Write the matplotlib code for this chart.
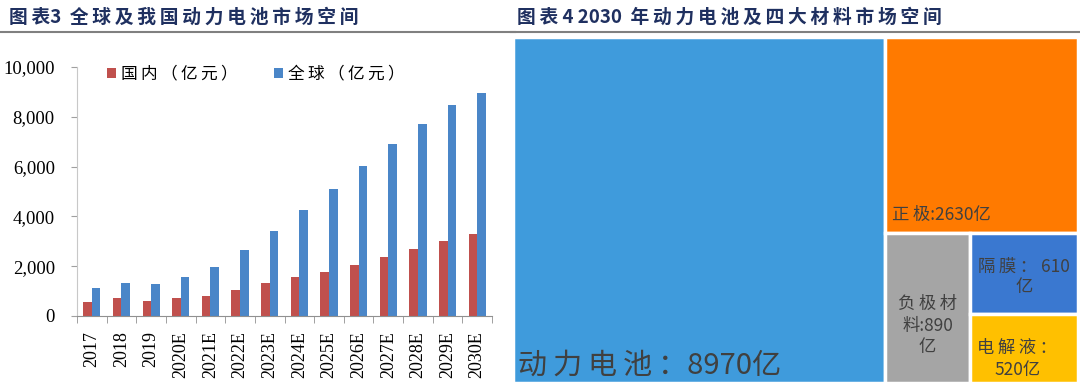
import numpy as np
import matplotlib
matplotlib.use("Agg")
from matplotlib import pyplot as plt
from matplotlib.patches import Rectangle

plt.rcParams['font.family'] = ['Noto Sans CJK SC', 'DejaVu Sans']

years = ['2017', '2018', '2019', '2020E', '2021E', '2022E', '2023E',
         '2024E', '2025E', '2026E', '2027E', '2028E', '2029E', '2030E']
domestic = [550, 710, 620, 720, 820, 1050, 1310, 1560, 1760, 2050, 2360, 2680, 3000, 3300]
world = [1140, 1340, 1270, 1570, 1960, 2640, 3430, 4240, 5110, 6030, 6920, 7730, 8490, 8970]

tm_names = ['动力电池：8970亿', '正极:2630亿', '负极材\n料:890\n亿', '隔膜： 610\n亿', '电解液：\n520亿']
tm_values = [8970, 2630, 890, 610, 520]
tm_colors = ['#3F9BDC', '#FF7A00', '#A5A5A5', '#3A78D0', '#FFC000']


def spaced(s):
    # wide tracking between CJK characters, like the report fonts
    out = ''
    for a, b in zip(s, s[1:] + ' '):
        out += a
        if ord(a) > 127 and ord(b) > 127:
            out += '\u2009'
    return out


navy = '#1F3060'
fig = plt.figure(figsize=(10.8, 3.87), dpi=100)

# headers
fig.text(0.008, 0.955, spaced('图表') + '3  ' + spaced('全球及我国动力电池市场空间'),
         fontsize=13.5, fontweight='bold', color=navy, va='center')
fig.text(0.479, 0.955, spaced('图表') + ' 4 2030  ' + spaced('年动力电池及四大材料市场空间'),
         fontsize=13.5, fontweight='bold', color=navy, va='center')
fig.add_artist(plt.Line2D([0, 0.477], [0.917, 0.917], color='#808080', lw=1.5))
fig.add_artist(plt.Line2D([0.473, 1], [0.917, 0.917], color='#808080', lw=1.5))

# left bar chart
ax = fig.add_axes((0.0713, 0.1835, 0.3843, 0.6434))
x = np.arange(len(years))
w = 0.29
ax.bar(x - w / 2, domestic, w, color='#C0504D', label=spaced('国内（亿元）'))
ax.bar(x + w / 2, world, w, color='#4A86C8', label=spaced('全球（亿元）'))
ax.set_xlim(-0.5, len(years) - 0.5)
ax.set_ylim(0, 10000)
ax.set_yticks(range(0, 10001, 2000))
ax.set_yticklabels([f'{v:,}' for v in range(0, 10001, 2000)],
                   fontfamily='Liberation Serif', fontsize=13.5)
ax.set_xticks(x)
ax.set_xticklabels(years, rotation=90, fontfamily='Liberation Serif', fontsize=13)
ax.set_xticks(np.arange(-0.5, len(years)), minor=True)
ax.tick_params(axis='x', which='major', length=0, pad=11)
ax.tick_params(axis='x', which='minor', length=5, color='#909090')
ax.tick_params(axis='y', length=4, color='#A0A0A0', pad=12)
for s in ['top', 'right']:
    ax.spines[s].set_visible(False)
ax.spines['bottom'].set_color('#909090')
ax.spines['left'].set_color('#C8C8C8')
ax.legend(loc='upper left', bbox_to_anchor=(0.035, 1.065), ncol=2, frameon=False,
          fontsize=12, handlelength=0.55, handleheight=0.55, handletextpad=0.3,
          columnspacing=2.2)

# right treemap
tx = fig.add_axes((0.475, 0.0103, 0.523, 0.894))
tx.set_xlim(0, 1)
tx.set_ylim(0, 1)
tx.axis('off')
total = sum(tm_values)
rest = total - tm_values[0]
w0 = tm_values[0] / total
h1 = tm_values[1] / rest
lower = tm_values[2] + tm_values[3] + tm_values[4]
w2 = (1 - w0) * tm_values[2] / lower
h3 = (1 - h1) * tm_values[3] / (tm_values[3] + tm_values[4])
rects = [
    (0, 0, w0, 1),
    (w0, 1 - h1, 1 - w0, h1),
    (w0, 0, w2, 1 - h1),
    (w0 + w2, 1 - h1 - h3, 1 - w0 - w2, h3),
    (w0 + w2, 0, 1 - w0 - w2, 1 - h1 - h3),
]
for (rx, ry, rw, rh), c in zip(rects, tm_colors):
    tx.add_patch(Rectangle((rx, ry), rw, rh, facecolor=c, edgecolor='white', lw=2.5))

tc = '#404040'
tx.text(0.008, 0.05, spaced(tm_names[0]), fontsize=21, color=tc, va='center', ha='left')
tx.text(w0 + 0.012, 1 - h1 + 0.05, spaced(tm_names[1]), fontsize=12.5, color=tc,
        va='center', ha='left')
tx.text(w0 + w2 / 2, 0.165, spaced(tm_names[2]), fontsize=12.5,
        color=tc, va='center', ha='center', linespacing=1.25)
tx.text(w0 + w2 + (1 - w0 - w2) / 2, 1 - h1 - h3 / 2 - 0.01, spaced(tm_names[3]),
        fontsize=12.5, color=tc, va='center', ha='center', linespacing=1.15)
tx.text(w0 + w2 + (1 - w0 - w2) / 2 - 0.012, (1 - h1 - h3) / 2 - 0.03, spaced(tm_names[4]),
        fontsize=12.5, color=tc, va='center', ha='center', linespacing=1.25)

plt.savefig('out.png', dpi=100)
